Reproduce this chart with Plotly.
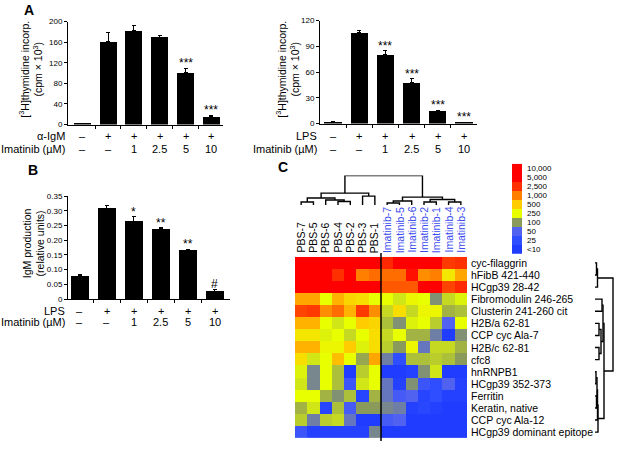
import plotly.graph_objects as go

W, H = 619, 452
FONT = "Liberation Sans, Arial, sans-serif"

# ---------------- data ----------------
conc_labels = ["–", "–", "1", "2.5", "5", "10"]
stim_labels = ["–", "+", "+", "+", "+", "+"]

a1_vals = [2, 162, 183, 170, 101, 16]
a1_err = [0.5, 16, 10, 4, 8, 2]
a1_sig = ["", "", "", "", "***", "***"]

a2_vals = [2, 106, 80, 47.5, 14.5, 1.5]
a2_err = [0.5, 3, 5, 4.5, 1, 0.3]
a2_sig = ["", "", "***", "***", "***", "***"]

b_vals = [0.079, 0.309, 0.264, 0.239, 0.168, 0.027]
b_err = [0.003, 0.010, 0.015, 0.004, 0.002, 0.007]
b_sig = ["", "", "*", "**", "**", "#"]

heat_cols = ["PBS-7", "PBS-5", "PBS-6", "PBS-4", "PBS-2", "PBS-3", "PBS-1",
             "Imatinib-7", "Imatinib-5", "Imatinib-6", "Imatinib-2", "Imatinib-1",
             "Imatinib-4", "Imatinib-3"]
heat_rows = ["cyc-filaggrin", "hFibB 421-440", "HCgp39 28-42", "Fibromodulin 246-265",
             "Clusterin 241-260 cit", "H2B/a 62-81", "CCP cyc Ala-7", "H2B/c 62-81",
             "cfc8", "hnRNPB1", "HCgp39 352-373", "Ferritin", "Keratin, native",
             "CCP cyc Ala-12", "HCgp39 dominant epitope"]
# log10 of reactivity
heat_log10 = [
    [4.0, 4.0, 4.0, 4.0, 4.0, 4.0, 4.0, 3.45, 3.9, 3.9, 3.9, 3.9, 3.35, 3.4],
    [3.9, 3.9, 3.85, 3.4, 3.9, 3.0, 3.1, 3.1, 3.1, 3.6, 2.95, 3.0, 2.55, 2.85],
    [3.9, 3.9, 3.75, 3.9, 3.9, 3.9, 3.9, 3.2, 3.2, 3.2, 3.9, 3.7, 3.3, 3.45],
    [2.85, 2.85, 2.4, 2.8, 2.65, 2.6, 2.4, 2.4, 2.3, 2.45, 2.4, 1.95, 2.25, 2.35],
    [3.3, 3.35, 2.95, 3.1, 2.8, 3.35, 2.95, 2.25, 2.6, 2.25, 2.45, 2.45, 2.1, 2.15],
    [2.8, 2.8, 2.4, 2.3, 2.4, 2.7, 2.65, 2.15, 1.95, 2.35, 2.4, 2.2, 1.7, 2.4],
    [2.55, 2.55, 2.35, 2.4, 2.25, 2.4, 2.6, 2.25, 2.4, 2.1, 2.1, 1.85, 1.0, 1.95],
    [2.8, 2.8, 2.45, 2.45, 2.7, 2.35, 2.6, 2.2, 2.0, 2.45, 1.8, 2.25, 2.25, 2.1],
    [2.6, 2.3, 2.4, 2.75, 2.4, 2.05, 2.85, 1.85, 1.4, 2.15, 2.15, 2.2, 2.15, 2.0],
    [2.35, 1.9, 2.4, 2.15, 1.0, 2.2, 2.4, 1.0, 1.0, 1.1, 1.95, 2.3, 1.0, 1.0],
    [2.3, 1.9, 2.4, 2.15, 1.5, 2.3, 2.4, 1.8, 1.1, 1.95, 1.5, 1.4, 1.7, 1.1],
    [2.4, 2.4, 2.1, 1.95, 2.15, 1.2, 2.1, 1.8, 1.6, 1.7, 1.2, 1.4, 1.1, 1.1],
    [2.1, 2.3, 1.2, 2.15, 1.6, 2.0, 2.0, 1.9, 1.85, 1.1, 1.25, 1.1, 1.0, 1.0],
    [2.2, 1.85, 2.2, 2.25, 1.8, 1.0, 1.0, 1.6, 1.7, 1.0, 1.0, 1.0, 1.0, 1.0],
    [1.5, 1.1, 1.1, 1.1, 1.1, 1.1, 1.9, 1.0, 1.0, 1.0, 1.0, 1.0, 1.0, 1.0],
]
legend_labels = ["10,000", "5,000", "2,500", "1,000", "500", "250", "100", "50", "25", "<10"]
legend_log10 = [4.0, 3.7, 3.4, 3.0, 2.7, 2.4, 2.0, 1.7, 1.4, 1.0]

# dendrogram merges: (left node, right node, height)
col_merges = [(0, 1, 3), (3, 4, 3.5), (2, 15, 5), (14, 16, 7), (5, 6, 9), (17, 18, 12),
              (7, 8, 2), (20, 9, 4), (10, 11, 3), (12, 13, 3), (22, 23, 5.5), (21, 24, 8),
              (19, 25, 30)]
row_merges = [(0, 1, 1.5), (15, 2, 2.5), (3, 4, 7), (5, 6, 4), (7, 8, 4), (18, 19, 6),
              (17, 20, 8), (9, 10, 1), (11, 12, 1.5), (22, 23, 2), (24, 13, 2.5),
              (25, 14, 3), (21, 26, 9), (16, 27, 18)]

# ---------------- helpers ----------------
def fx(px):
    return px / W

def fy(py):
    return 1 - py / H

def dendro_lines(n_leaves, merges):
    pos = {i: float(i) for i in range(n_leaves)}
    hgt = {i: 0.0 for i in range(n_leaves)}
    P, Hh = [], []
    nid = n_leaves
    for a, b, h in merges:
        P += [pos[a], pos[a], pos[b], pos[b], None]
        Hh += [hgt[a], h, h, hgt[b], None]
        pos[nid] = (pos[a] + pos[b]) / 2
        hgt[nid] = h
        nid += 1
    return P, Hh

cscale = [[0.0, "#1f3cff"], [0.4 / 3, "#2f4eff"], [0.7 / 3, "#5262f0"],
          [1.0 / 3, "#8a9a5b"], [1.4 / 3, "#e8ff00"], [1.7 / 3, "#ffcc00"],
          [2.0 / 3, "#ff8000"], [2.4 / 3, "#ff3000"], [2.7 / 3, "#ff0000"], [1.0, "#ff0000"]]

fig = go.Figure()
ann = []

def txt(size, color="black"):
    return dict(size=size, family=FONT, color=color)

def bar_panel(idx, vals, errs, sigs, xd, yd, yr, tickvals, ticktext, xr, stim_name, lab_rows, yt_x, yt_y, ytitle):
    xa = "x" if idx == 1 else f"x{idx}"
    ya = "y" if idx == 1 else f"y{idx}"
    fig.add_trace(go.Bar(x=list(range(6)), y=vals, xaxis=xa, yaxis=ya, width=0.66,
                         marker=dict(color="black", line=dict(width=0)),
                         error_y=dict(type="data", symmetric=False, array=errs,
                                      arrayminus=[0] * 6, color="black", thickness=1, width=2),
                         showlegend=False, hoverinfo="skip"))
    key = "" if idx == 1 else str(idx)
    fig.layout["xaxis" + key] = dict(domain=[fx(xd[0]), fx(xd[1])], range=xr, anchor=ya,
                                     showline=True, linecolor="black", linewidth=1,
                                     tickvals=[0.5, 1.5, 2.5, 3.5, 4.5], ticks="outside",
                                     ticklen=3, tickcolor="black", showticklabels=False,
                                     showgrid=False, zeroline=False, fixedrange=True)
    fig.layout["yaxis" + key] = dict(domain=[fy(yd[1]), fy(yd[0])], range=yr, anchor=xa,
                                     showline=True, linecolor="black", linewidth=1,
                                     tickvals=tickvals, ticktext=ticktext, ticks="outside",
                                     ticklen=3, tickcolor="black", tickfont=txt(8),
                                     showgrid=False, zeroline=False, fixedrange=True)
    for i in range(6):
        if sigs[i]:
            ann.append(dict(x=i, y=vals[i] + errs[i], xref=xa, yref=ya, text=sigs[i],
                            showarrow=False, xanchor="center", yanchor="bottom", yshift=-4,
                            font=txt(12)))
        ann.append(dict(x=i, y=fy(lab_rows[0]), xref=xa, yref="paper", text=stim_labels[i],
                        showarrow=False, xanchor="center", yanchor="middle", font=txt(11)))
        ann.append(dict(x=i, y=fy(lab_rows[1]), xref=xa, yref="paper", text=conc_labels[i],
                        showarrow=False, xanchor="center", yanchor="middle", font=txt(11)))
    ann.append(dict(x=fx(xd[0] - 1), y=fy(lab_rows[0]), xref="paper", yref="paper",
                    text=stim_name, showarrow=False, xanchor="right", yanchor="middle",
                    font=txt(11)))
    ann.append(dict(x=fx(xd[0] - 1), y=fy(lab_rows[1]), xref="paper", yref="paper",
                    text="Imatinib (µM)", showarrow=False, xanchor="right", yanchor="middle",
                    font=txt(11)))
    ann.append(dict(x=fx(yt_x), y=fy(yt_y), xref="paper", yref="paper", text=ytitle,
                    textangle=-90, showarrow=False, xanchor="center", yanchor="middle",
                    font=txt(10.5)))

thy = "[<sup>3</sup>H]thymidine incorp.<br>(cpm × 10<sup>3</sup>)"
bar_panel(1, a1_vals, a1_err, a1_sig, (68, 223), (18, 123), [0, 200],
          [0, 40, 80, 120, 160, 200], ["0", "40", "80", "120", "160", "200"],
          [-0.55, 5.45], "α-IgM", (135, 148), 31, 67, thy)
bar_panel(2, a2_vals, a2_err, a2_sig, (320, 477), (17, 122), [0, 120],
          [0, 30, 60, 90, 120], ["0", "30", "60", "90", "120"],
          [-0.5, 5.5], "LPS", (135, 148), 288, 67, thy)
bar_panel(3, b_vals, b_err, b_sig, (68, 230), (196, 301), [0, 0.35],
          [0, 0.05, 0.1, 0.15, 0.2, 0.25, 0.3, 0.35],
          ["0", "0.05", "0.10", "0.15", "0.20", "0.25", "0.30", "0.35"],
          [-0.44, 5.56], "LPS", (313, 324), 34, 244, "IgM production<br>(relative units)")

# ---------------- heatmap ----------------
fig.add_trace(go.Heatmap(z=heat_log10, x=list(range(14)), y=list(range(15)),
                         xaxis="x4", yaxis="y4", colorscale=cscale, zmin=1, zmax=4,
                         showscale=False, xgap=0, ygap=0, hoverinfo="skip"))
fig.layout["xaxis4"] = dict(domain=[fx(295), fx(467)], range=[-0.5, 13.5], anchor="y4",
                            visible=False, fixedrange=True)
fig.layout["yaxis4"] = dict(domain=[fy(443), fy(258)], range=[14.5, -0.5], anchor="x4",
                            visible=False, fixedrange=True)
for i, c in enumerate(heat_cols):
    ann.append(dict(x=i, y=fy(256), xref="x4", yref="paper", text=c, textangle=-90,
                    showarrow=False, xanchor="center", yanchor="bottom",
                    font=txt(10.5, "black" if c.startswith("PBS") else "#3b4cf0")))
for j, r in enumerate(heat_rows):
    ann.append(dict(x=fx(469), y=j, xref="paper", yref="y4", text=r, showarrow=False,
                    xanchor="left", yanchor="middle", font=txt(10.5)))
fig.add_shape(type="line", xref="x4", yref="paper", x0=6.5, x1=6.5, y0=fy(446), y1=fy(254),
              line=dict(color="black", width=1.5))

# top dendrogram
px_, ph_ = dendro_lines(14, col_merges)
fig.add_trace(go.Scatter(x=px_, y=ph_, xaxis="x5", yaxis="y5", mode="lines",
                         line=dict(color="black", width=1.4), showlegend=False,
                         hoverinfo="skip"))
fig.layout["xaxis5"] = dict(domain=[fx(295), fx(467)], range=[-0.5, 13.5], anchor="y5",
                            visible=False, fixedrange=True)
fig.layout["yaxis5"] = dict(domain=[fy(205), fy(175)], range=[0, 30], anchor="x5",
                            visible=False, fixedrange=True)

# right dendrogram
rp_, rh_ = dendro_lines(15, row_merges)
fig.add_trace(go.Scatter(x=rh_, y=rp_, xaxis="x6", yaxis="y6", mode="lines",
                         line=dict(color="black", width=1.4), showlegend=False,
                         hoverinfo="skip"))
fig.layout["xaxis6"] = dict(domain=[fx(595), fx(614)], range=[0, 19], anchor="y6",
                            visible=False, fixedrange=True)
fig.layout["yaxis6"] = dict(domain=[fy(443), fy(258)], range=[14.5, -0.5], anchor="x6",
                            visible=False, fixedrange=True)

# colour legend
fig.add_trace(go.Heatmap(z=[[v] for v in legend_log10], x=[0], y=list(range(10)),
                         xaxis="x7", yaxis="y7", colorscale=cscale, zmin=1, zmax=4,
                         showscale=False, hoverinfo="skip"))
fig.layout["xaxis7"] = dict(domain=[fx(512), fx(522)], range=[-0.5, 0.5], anchor="y7",
                            visible=False, fixedrange=True)
fig.layout["yaxis7"] = dict(domain=[fy(255), fy(163)], range=[9.5, -0.5], anchor="x7",
                            visible=False, fixedrange=True)
for k, lab in enumerate(legend_labels):
    ann.append(dict(x=fx(525), y=k, xref="paper", yref="y7", text=lab, showarrow=False,
                    xanchor="left", yanchor="middle", font=txt(8)))

# panel letters
for letter, (lx, ly) in {"A": (29, 6), "B": (33, 169), "C": (283, 166)}.items():
    ann.append(dict(x=fx(lx), y=fy(ly), xref="paper", yref="paper", text=f"<b>{letter}</b>",
                    showarrow=False, xanchor="center", yanchor="middle", font=txt(14)))

fig.update_layout(width=W, height=H, margin=dict(l=0, r=0, t=0, b=0),
                  paper_bgcolor="white", plot_bgcolor="white", annotations=ann,
                  font=dict(family=FONT, color="black"), bargap=0)
fig.write_html("out.html", config={"displayModeBar": False},
               post_script="document.body.style.margin='0';")
